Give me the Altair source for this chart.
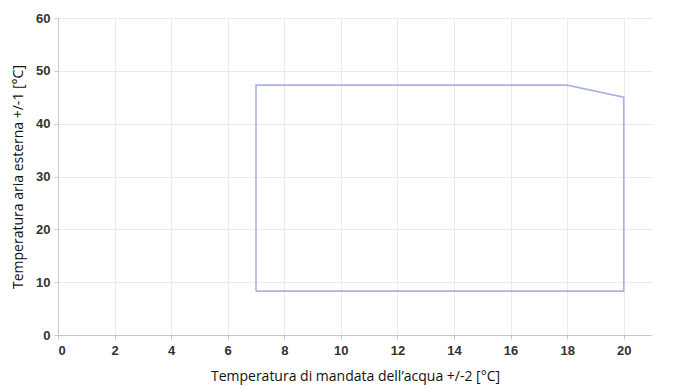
import altair as alt
import pandas as pd

# Operating envelope outline (closed polygon)
water_temp = [7, 7, 18, 20, 20, 7]
air_temp = [8.3, 47.3, 47.3, 45.0, 8.3, 8.3]
order = list(range(len(water_temp)))

df = pd.DataFrame({"x": water_temp, "y": air_temp, "o": order})

x_ticks = [0, 2, 4, 6, 8, 10, 12, 14, 16, 18, 20]
y_ticks = [0, 10, 20, 30, 40, 50, 60]

chart = alt.Chart(df).mark_line(color="#a9b3e3", strokeWidth=1.6).encode(
    x=alt.X("x:Q", scale=alt.Scale(domain=[0, 21], nice=False),
            axis=alt.Axis(values=x_ticks, title="Temperatura di mandata dell\u2019acqua +/-2 [\u00b0C]")),
    y=alt.Y("y:Q", scale=alt.Scale(domain=[0, 60], nice=False),
            axis=alt.Axis(values=y_ticks, title="Temperatura aria esterna +/-1 [\u00b0C]")),
    order="o:Q",
).properties(width=594, height=317).configure_axis(
    gridColor="#ebebeb",
    domainColor="#c8c8c8",
    tickColor="#c8c8c8",
    tickSize=4,
    labelFont="Liberation Sans",
    labelFontWeight="bold",
    labelFontSize=13,
    labelColor="#333333",
    titleFont="Open Sans",
    titleFontWeight="normal",
    titleFontSize=14,
    titleColor="#111111",
).configure_axisX(titlePadding=12, labelPadding=5).configure_axisY(titlePadding=10, labelPadding=4).configure_view(
    stroke=None
).properties(padding={"left": 11, "top": 12, "right": 18, "bottom": 4})

chart.save("out.html", embed_options={"renderer": "svg", "actions": False})
